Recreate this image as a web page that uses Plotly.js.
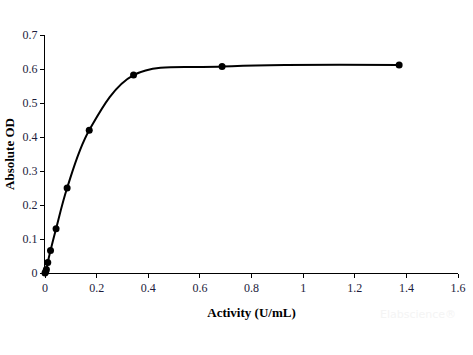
<!DOCTYPE html>
<html><head><meta charset="utf-8">
<script src="https://cdn.plot.ly/plotly-3.0.1.min.js"></script>
<style>html,body{margin:0;padding:0;background:#fff}#c{width:473px;height:355px}</style>
</head><body><div id="c"></div>
<script>
const activity = [0, 0.0027, 0.0054, 0.0107, 0.0214, 0.0429, 0.0857, 0.1714, 0.343, 0.686, 1.372];
const od = [0, 0.004, 0.01, 0.031, 0.066, 0.13, 0.25, 0.42, 0.582, 0.607, 0.612];
const xTicks = [0, 0.2, 0.4, 0.6, 0.8, 1, 1.2, 1.4, 1.6];
const xTickText = ['0', '0.2', '0.4', '0.6', '0.8', '1', '1.2', '1.4', '1.6'];
const yTicks = [0, 0.1, 0.2, 0.3, 0.4, 0.5, 0.6, 0.7];
const yTickText = ['0', '0.1', '0.2', '0.3', '0.4', '0.5', '0.6', '0.7'];

const font = 'Liberation Serif, Times New Roman, serif';
Plotly.newPlot('c', [{
  x: activity, y: od, type: 'scatter', mode: 'lines+markers',
  line: {shape: 'spline', smoothing: 1, color: '#000', width: 2},
  marker: {color: '#000', size: 7}, cliponaxis: false
}], {
  width: 473, height: 355,
  margin: {l: 45, r: 15, t: 35, b: 82},
  paper_bgcolor: '#fff', plot_bgcolor: '#fff',
  showlegend: false,
  font: {family: font, size: 12, color: '#1c1c3c'},
  xaxis: {
    range: [0, 1.6], tickvals: xTicks, ticktext: xTickText,
    showgrid: false, zeroline: false, showline: true, linecolor: '#000', linewidth: 1,
    ticks: 'outside', ticklen: 4, tickcolor: '#000',
    tickfont: {family: font, size: 12, color: '#1c1c3c'},
    title: {text: '<b>Activity (U/mL)</b>', font: {family: font, size: 13, color: '#000'}, standoff: 13}
  },
  yaxis: {
    range: [0, 0.7], tickvals: yTicks, ticktext: yTickText,
    showgrid: false, zeroline: false, showline: true, linecolor: '#000', linewidth: 1,
    ticks: 'outside', ticklen: 4, tickcolor: '#000',
    tickfont: {family: font, size: 12, color: '#1c1c3c'},
    title: {text: '<b>Absolute OD</b>', font: {family: font, size: 13, color: '#000'}, standoff: 5}
  },
  annotations: [{
    text: 'Elabscience®', xref: 'paper', yref: 'paper', x: 1.0, y: -0.21,
    xanchor: 'right', showarrow: false, font: {family: 'DejaVu Sans', size: 11, color: '#f4f4f4'}
  }]
}, {displayModeBar: false, staticPlot: true});
</script></body></html>
